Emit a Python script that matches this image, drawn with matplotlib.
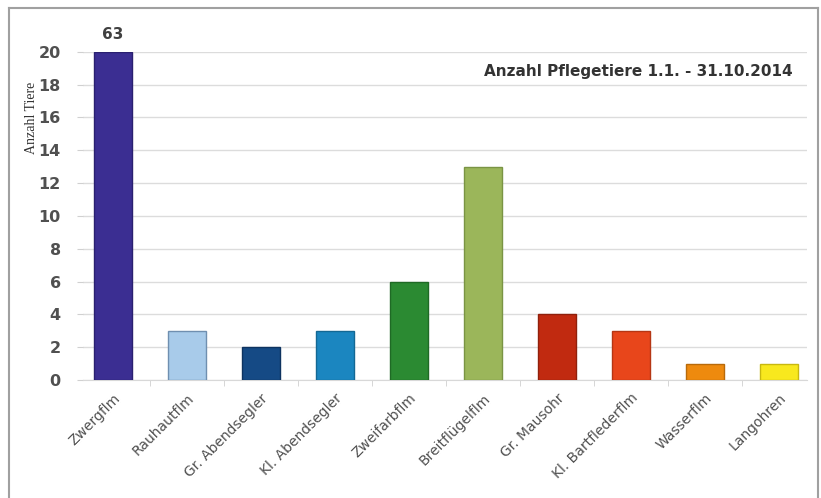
import matplotlib
matplotlib.use('Agg')
from matplotlib import pyplot as plt
from matplotlib.lines import Line2D
import numpy as np

# Pflegetiere 1.1. - 31.10.2014
arten = ['Zwergflm', 'Rauhautflm', 'Gr. Abendsegler', 'Kl. Abendsegler', 'Zweifarbflm',
         'Breitflügelflm', 'Gr. Mausohr', 'Kl. Bartflederflm', 'Wasserflm', 'Langohren']
anzahl = [63, 3, 2, 3, 6, 13, 4, 3, 1, 1]
farben = ['#3b2e92', '#a8cbea', '#154a85', '#1b86c0', '#2b8a32',
          '#9bb65a', '#c12a10', '#e8461b', '#ee8a0e', '#f8e81e']
kanten = ['#2a2070', '#6f8fb0', '#0e3360', '#146894', '#1f6a25',
          '#7a9444', '#90200c', '#b53614', '#b86a0a', '#c8b810']
ymax = 20
y_ticks = list(range(0, 22, 2))

fig = plt.figure(figsize=(8.21, 4.98), dpi=100)
ax = fig.add_axes([0.101, 0.237, 0.882, 0.659])

x = np.arange(len(arten))
hoehe = [min(v, ymax) for v in anzahl]
ax.bar(x, hoehe, width=0.51, color=farben, edgecolor=kanten, linewidth=1.0, zorder=3)

# value above clipped bar
for i, v in enumerate(anzahl):
    if v > ymax:
        ax.text(i, ymax + 0.6, str(v), ha='center', va='bottom', fontsize=11,
                fontweight='bold', color='#404040', clip_on=False)

ax.set_xlim(-0.405, 9.38)
ax.set_ylim(0, ymax)
ax.set_yticks(y_ticks)
ax.set_yticklabels([str(t) for t in y_ticks], fontsize=11.5, fontweight='bold', color='#505050')
ax.set_xticks(x)
ax.set_xticklabels(arten, rotation=45, ha='right', rotation_mode='anchor',
                   fontsize=10, color='#505050')
ax.tick_params(axis='x', length=0, pad=8)
ax.tick_params(axis='y', length=4, color='#d0d0d0', pad=12)
ax.set_xticks(np.arange(len(arten) - 1) + 0.5, minor=True)
ax.tick_params(axis='x', which='minor', length=4, color='#d0d0d0')

ax.grid(axis='y', color='#dcdcdc', linewidth=1.0, zorder=0)
for s in ['top', 'right', 'left']:
    ax.spines[s].set_visible(False)
ax.spines['bottom'].set_color('#d8d8d8')

ax.set_ylabel('Anzahl Tiere', family='Liberation Serif', fontsize=10, color='#333333')
ax.yaxis.set_label_coords(-0.062, 0.80)

ax.text(0.98, 0.94, 'Anzahl Pflegetiere 1.1. - 31.10.2014', transform=ax.transAxes,
        ha='right', va='center', fontsize=11, fontweight='bold', color='#333333')

# outer frame (open at the bottom)
W, H = 821, 498
frame = dict(color='#a0a0a0', linewidth=1.5, transform=fig.transFigure)
fig.lines.append(Line2D([9 / W, 9 / W], [0, 1 - 8 / H], **frame))
fig.lines.append(Line2D([9 / W, 818 / W], [1 - 8 / H, 1 - 8 / H], **frame))
fig.lines.append(Line2D([818 / W, 818 / W], [0, 1 - 8 / H], **frame))

fig.savefig('out.png', dpi=100)
